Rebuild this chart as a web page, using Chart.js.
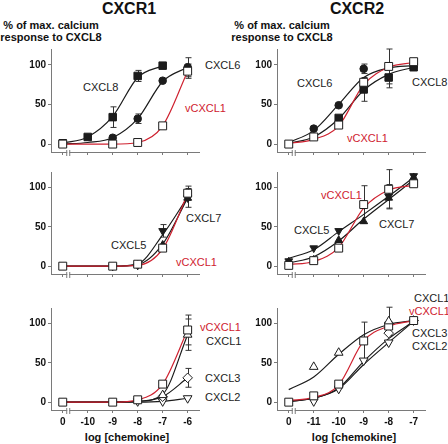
<!DOCTYPE html>
<html>
<head>
<meta charset="utf-8">
<script src="https://cdn.jsdelivr.net/npm/chart.js@4.4.1/dist/chart.umd.min.js"></script>
<style>
  body { margin: 0; background: #fff; width: 448px; height: 444px; position: relative; overflow: hidden;
         font-family: "Liberation Sans", Arial, sans-serif; }
  canvas { position: absolute; }
  .t { position: absolute; white-space: nowrap; line-height: 1; transform: translateY(-50%); }
  .c { transform: translate(-50%, -50%); }
  .lab { font-size: 11px; color: #222; }
  .red { color: #cf2230; }
  .b { font-weight: bold; color: #111; }
</style>
</head>
<body>
<div class="t c b" style="left:129px;top:9px;font-size:16px;">CXCR1</div>
<div class="t c b" style="left:357px;top:9px;font-size:16px;">CXCR2</div>
<div class="t c b" style="left:51px;top:25px;font-size:11px;">% of max. calcium</div>
<div class="t c b" style="left:51px;top:37px;font-size:11px;">response to CXCL8</div>
<div class="t c b" style="left:282px;top:25px;font-size:11px;">% of max. calcium</div>
<div class="t c b" style="left:282px;top:37px;font-size:11px;">response to CXCL8</div>
<div class="t c b" style="left:127px;top:437px;font-size:11px;">log [chemokine]</div>
<div class="t c b" style="left:354px;top:437px;font-size:11px;">log [chemokine]</div>

<!-- series labels -->
<div class="t lab" style="left:83px;top:87px;">CXCL8</div>
<div class="t lab" style="left:205px;top:65px;">CXCL6</div>
<div class="t lab red" style="left:185px;top:108px;">vCXCL1</div>

<div class="t lab" style="left:297px;top:83px;">CXCL6</div>
<div class="t lab" style="left:412px;top:82px;">CXCL8</div>
<div class="t lab red" style="left:347px;top:138px;">vCXCL1</div>

<div class="t lab" style="left:186px;top:218px;">CXCL7</div>
<div class="t lab" style="left:111px;top:245px;">CXCL5</div>
<div class="t lab red" style="left:176px;top:262px;">vCXCL1</div>

<div class="t lab red" style="left:321px;top:195px;">vCXCL1</div>
<div class="t lab" style="left:294px;top:230px;">CXCL5</div>
<div class="t lab" style="left:379px;top:224px;">CXCL7</div>

<div class="t lab red" style="left:200px;top:327px;">vCXCL1</div>
<div class="t lab" style="left:206px;top:341px;">CXCL1</div>
<div class="t lab" style="left:205px;top:378px;">CXCL3</div>
<div class="t lab" style="left:205px;top:397px;">CXCL2</div>

<div class="t lab" style="left:414px;top:298px;">CXCL1</div>
<div class="t lab red" style="left:409px;top:311px;">vCXCL1</div>
<div class="t lab" style="left:412px;top:333px;">CXCL3</div>
<div class="t lab" style="left:412px;top:346px;">CXCL2</div>

<canvas id="pA"></canvas>
<canvas id="pB"></canvas>
<canvas id="pC"></canvas>
<canvas id="pD"></canvas>
<canvas id="pE"></canvas>
<canvas id="pF"></canvas>

<script>
// x positions (log M); the "0" (buffer) point sits one step left of the first dose
const xLeft = [-11, -10, -9, -8, -7, -6];
const xRight = [-12, -11, -10, -9, -8, -7];
const leftTickLabels = ['0', '-10', '-9', '-8', '-7', '-6'];
const rightTickLabels = ['0', '-11', '-10', '-9', '-8', '-7'];
const yTicks = [0, 50, 100];

// CXCR1 - top
const aCxcl8 = [1, 9, 34, 86, 99, null];
const aCxcl8Err = [0, 0, 13, 7, 0, 0];
const aCxcl8Fit = [1, 9, 35, 84, 99, null];
const aCxcl6 = [null, null, 8, 32, 80, 97];
const aCxcl6Err = [0, 0, 0, 6, 0, 12];
const aCxcl6Fit = [0, 2, 8, 32, 79, 97];
const aV = [0, null, 0, 2, 23, 92];
const aVErr = [0, 0, 0, 0, 0, 9];
const aVFit = [0, 0, 0, 2, 23, 92];

// CXCR2 - top
const bCxcl6 = [null, 19.5, 49, 95, null, 98];
const bCxcl6Err = [0, 0, 0, 6, 0, 0];
const bCxcl6Fit = [2, 17, 50, 84, 96, 99];
const bCxcl8 = [null, null, 33, 69, 84, 97];
const bCxcl8Err = [0, 0, 0, 15, 13, 0];
const bCxcl8Fit = [1, 9, 32, 68, 88, 97];
const bV = [0, 9, 24, 78, 98, 104];
const bVErr = [0, 0, 0, 0, 22, 0];
const bVFit = [1, 6, 23, 75, 97, 103];

// CXCR1 - middle
const cCxcl5 = [null, null, 0, 1, 45, 87];
const cCxcl5Err = [0, 0, 0, 0, 8, 0];
const cCxcl5Fit = [0, 0, 0, 3, 40, 88];
const cCxcl7 = [null, null, null, 2, 27, 87];
const cCxcl7Err = [0, 0, 0, 0, 0, 12];
const cCxcl7Fit = [0, 0, 0, 2, 28, 87];
const cV = [0, null, 0, 2.5, 23, 93];
const cVErr = [0, 0, 0, 0, 0, 9];
const cVFit = [0, 0, 0, 1, 22, 92];

// CXCR2 - middle
const dCxcl5 = [6.5, 23, 45, null, 89, 115];
const dCxcl5Err = [0, 0, 0, 0, 15, 0];
const dCxcl5Fit = [10, 21, 44, 66, 89, 113];
const dCxcl7 = [5.5, 8, 33, 57, 87, 113];
const dCxcl7Fit = [4, 12, 32, 60, 85, 110];
const dV = [1, 7, 23, 78.5, 98, 105];
const dVErr = [0, 0, 0, 24, 25, 0];
const dVFit = [2, 6, 24, 74, 97, 103];

// CXCR1 - bottom
const eCxcl1 = [null, null, null, null, 9, 86];
const eCxcl1Err = [0, 0, 0, 0, 0, 20];
const eCxcl1Fit = [0, 0, 0, 1, 10, 86];
const eCxcl3 = [null, null, null, null, 7, 31];
const eCxcl3Err = [0, 0, 0, 0, 0, 12];
const eCxcl3Fit = [0, 0, 0, 1, 7, 31];
const eCxcl2 = [null, null, null, 1, 1, 5];
const eCxcl2Fit = [0, 0, 0, 0, 1, 5];
const eV = [0, null, 0, 3, 23, 92];
const eVErr = [0, 0, 0, 0, 0, 19];
const eVFit = [0, 0, 0, 3, 23, 92];

// CXCR2 - bottom
const fCxcl1 = [null, 45, 63, null, 103, null];
const fCxcl1Err = [0, 0, 0, 0, 18, 0];
const fCxcl1Fit = [16, 32, 61, 86, 99, 104];
const fCxcl3 = [null, null, null, null, 88, 104];
const fCxcl3Fit = [1, 5, 18, 52, 81, 103];
const fCxcl2 = [null, 1, 17, 53, 76, null];
const fCxcl2Fit = [1, 5, 17, 48, 76, 103];
const fV = [0, 8, 23, 78, 97, 104];
const fVErr = [0, 0, 0, 24, 0, 0];
const fVFit = [2, 6, 22, 78, 97, 104];

const BLACK = '#1c1c1c';
const RED = '#cf2230';
const AXIS = '#7a7a7a';

const styles = {
  filledSquare: { pointStyle: 'rect', bg: BLACK, r: 5.3 },
  openSquare: { pointStyle: 'rect', bg: '#fff', r: 5.6 },
  filledCircle: { pointStyle: 'circle', bg: BLACK, r: 3.8 },
  filledTri: { pointStyle: 'triangle', bg: BLACK, r: 4.5 },
  filledTriDown: { pointStyle: 'triangle', bg: BLACK, r: 4.5, rot: 180 },
  openTri: { pointStyle: 'triangle', bg: '#fff', r: 5 },
  openTriDown: { pointStyle: 'triangle', bg: '#fff', r: 5, rot: 180 },
  openDiamond: { pointStyle: 'rectRot', bg: '#fff', r: 4.8 }
};

function pts(xs, ys) {
  return xs.map((x, i) => ({ x: x, y: ys[i] }));
}

function fitLine(xs, ys, color) {
  return {
    data: pts(xs, ys), showLine: true, borderColor: color, borderWidth: 1.2,
    pointRadius: 0, cubicInterpolationMode: 'monotone', order: 5, spanGaps: false
  };
}

function markers(xs, ys, style, errs, order) {
  const s = styles[style];
  return {
    data: pts(xs, ys), showLine: false, pointStyle: s.pointStyle, pointRadius: s.r,
    pointRotation: s.rot || 0, pointBackgroundColor: s.bg, pointBorderColor: BLACK,
    pointBorderWidth: 1, errors: errs || null, order: order == null ? 2 : order
  };
}

// vertical error bars with caps, drawn under the markers
const errorBars = {
  id: 'errorBars',
  beforeDatasetsDraw(chart) {
    const ctx = chart.ctx;
    const y = chart.scales.y;
    ctx.save();
    ctx.strokeStyle = '#333';
    ctx.lineWidth = 1;
    chart.data.datasets.forEach((ds, i) => {
      if (!ds.errors) return;
      const meta = chart.getDatasetMeta(i);
      meta.data.forEach((el, j) => {
        const v = ds.data[j].y;
        const e = ds.errors[j];
        if (v == null || !e) return;
        const px = Math.round(el.x) + 0.5;
        const top = y.getPixelForValue(v + e);
        const bot = y.getPixelForValue(v - e);
        ctx.beginPath();
        ctx.moveTo(px, top); ctx.lineTo(px, bot);
        ctx.moveTo(px - 3, top); ctx.lineTo(px + 3, top);
        ctx.moveTo(px - 3, bot); ctx.lineTo(px + 3, bot);
        ctx.stroke();
      });
    });
    ctx.restore();
  }
};

// small "||" break on the x axis between the buffer point and the first dose
const axisBreak = {
  id: 'axisBreak',
  afterDraw(chart, args, opts) {
    const ctx = chart.ctx;
    const px = chart.scales.x.getPixelForValue(opts.at);
    const py = chart.chartArea.bottom;
    ctx.save();
    ctx.fillStyle = '#fff';
    ctx.fillRect(px - 1, py - 1, 2, 3);
    ctx.strokeStyle = AXIS;
    ctx.lineWidth = 1;
    ctx.beginPath();
    ctx.moveTo(px - 1.5, py - 2); ctx.lineTo(px - 1.5, py + 4);
    ctx.moveTo(px + 1.5, py - 2); ctx.lineTo(px + 1.5, py + 4);
    ctx.stroke();
    ctx.restore();
  }
};

function makePanel(id, left, top, h, xs, tickLabels, showLabels, datasets) {
  const padTop = 8;
  const xH = showLabels ? 24 : 14;
  const canvas = document.getElementById(id);
  canvas.width = 190;
  canvas.height = padTop + h + xH;
  canvas.style.left = left + 'px';
  canvas.style.top = (top - padTop) + 'px';
  const isLeft = xs[0] === -11;
  new Chart(canvas, {
    type: 'scatter',
    data: { datasets: datasets },
    options: {
      responsive: false,
      animation: false,
      layout: { padding: { top: padTop, right: 3, left: 0, bottom: 0 } },
      plugins: {
        legend: { display: false },
        tooltip: { enabled: false },
        axisBreak: { at: isLeft ? -10.78 : -11.8 }
      },
      scales: {
        x: {
          type: 'linear',
          min: xs[0] - 0.47,
          max: xs[xs.length - 1] + 0.47,
          afterBuildTicks: s => { s.ticks = xs.map(v => ({ value: v })); },
          afterFit: s => { s.height = xH; },
          ticks: {
            autoSkip: false, maxRotation: 0, padding: 3,
            color: showLabels ? '#111' : 'rgba(0,0,0,0)',
            font: { family: '"Liberation Sans", Arial, sans-serif', size: 10, weight: 'bold' },
            callback: v => tickLabels[xs.indexOf(v)]
          },
          grid: { drawOnChartArea: false, drawTicks: true, tickLength: 3, color: AXIS },
          border: { display: true, color: AXIS, width: 1 }
        },
        y: {
          min: -10,
          max: 120,
          afterBuildTicks: s => { s.ticks = yTicks.map(v => ({ value: v })); },
          afterFit: s => { s.width = 35; },
          ticks: {
            padding: 2, color: '#111',
            font: { family: '"Liberation Sans", Arial, sans-serif', size: 10, weight: 'bold' }
          },
          grid: { drawOnChartArea: false, drawTicks: true, tickLength: 3, color: AXIS },
          border: { display: true, color: AXIS, width: 1 }
        }
      }
    },
    plugins: [errorBars, axisBreak]
  });
}

makePanel('pA', 16, 49, 103, xLeft, leftTickLabels, false, [
  markers(xLeft, aV, 'openSquare', aVErr, 0),
  markers(xLeft, aCxcl8, 'filledSquare', aCxcl8Err),
  markers(xLeft, aCxcl6, 'filledCircle', aCxcl6Err),
  fitLine(xLeft, aVFit, RED),
  fitLine(xLeft, aCxcl8Fit, BLACK),
  fitLine(xLeft, aCxcl6Fit, BLACK)
]);

makePanel('pB', 242, 49, 103, xRight, rightTickLabels, false, [
  markers(xRight, bV, 'openSquare', bVErr, 0),
  markers(xRight, bCxcl8, 'filledSquare', bCxcl8Err),
  markers(xRight, bCxcl6, 'filledCircle', bCxcl6Err),
  fitLine(xRight, bVFit, RED),
  fitLine(xRight, bCxcl8Fit, BLACK),
  fitLine(xRight, bCxcl6Fit, BLACK)
]);

makePanel('pC', 16, 172, 102, xLeft, leftTickLabels, false, [
  markers(xLeft, cV, 'openSquare', cVErr, 0),
  markers(xLeft, cCxcl5, 'filledTriDown', cCxcl5Err),
  markers(xLeft, cCxcl7, 'filledTri', cCxcl7Err),
  fitLine(xLeft, cVFit, RED),
  fitLine(xLeft, cCxcl5Fit, BLACK),
  fitLine(xLeft, cCxcl7Fit, BLACK)
]);

makePanel('pD', 242, 172, 102, xRight, rightTickLabels, false, [
  markers(xRight, dV, 'openSquare', dVErr, 0),
  markers(xRight, dCxcl5, 'filledTriDown', dCxcl5Err),
  markers(xRight, dCxcl7, 'filledTri', null),
  fitLine(xRight, dVFit, RED),
  fitLine(xRight, dCxcl5Fit, BLACK),
  fitLine(xRight, dCxcl7Fit, BLACK)
]);

makePanel('pE', 16, 308, 102, xLeft, leftTickLabels, true, [
  markers(xLeft, eV, 'openSquare', eVErr, 0),
  markers(xLeft, eCxcl1, 'openTri', eCxcl1Err),
  markers(xLeft, eCxcl3, 'openDiamond', eCxcl3Err),
  markers(xLeft, eCxcl2, 'openTriDown', null),
  fitLine(xLeft, eVFit, RED),
  fitLine(xLeft, eCxcl1Fit, BLACK),
  fitLine(xLeft, eCxcl3Fit, BLACK),
  fitLine(xLeft, eCxcl2Fit, BLACK)
]);

makePanel('pF', 242, 308, 102, xRight, rightTickLabels, true, [
  markers(xRight, fCxcl1, 'openTri', fCxcl1Err, 0),
  markers(xRight, fV, 'openSquare', fVErr, 1),
  markers(xRight, fCxcl3, 'openDiamond', null),
  markers(xRight, fCxcl2, 'openTriDown', null),
  fitLine(xRight, fVFit, RED),
  fitLine(xRight, fCxcl1Fit, BLACK),
  fitLine(xRight, fCxcl3Fit, BLACK),
  fitLine(xRight, fCxcl2Fit, BLACK)
]);
</script>
</body>
</html>
